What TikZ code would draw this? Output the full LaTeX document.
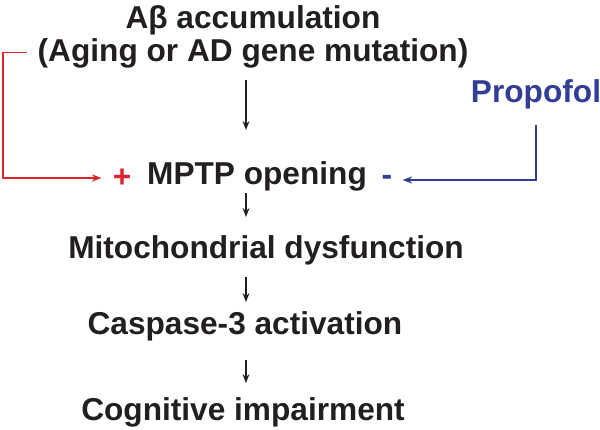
\documentclass[tikz,border=0pt]{standalone}
\usepackage{fontspec}
\setmainfont{Liberation Sans}
\usetikzlibrary{arrows.meta}
\definecolor{txtgray}{RGB}{35,31,32}
\definecolor{actred}{RGB}{222,35,45}
\definecolor{inhblue}{RGB}{50,62,150}
\tikzset{
	step label/.style={rectangle,anchor=base,inner sep=0pt,text height=16.9pt,text depth=5pt,
		text=txtgray,font=\fontsize{22.5}{26}\bfseries},
	sign label/.style={rectangle,inner sep=0pt,font=\fontsize{22.5}{26}\bfseries},
	flow/.style={line width=1pt,color=txtgray,-{Stealth[length=2.2mm,width=1.7mm]}},
	posarrow/.style={line width=1.2pt,color=actred,-{Stealth[length=2.4mm,width=1.8mm]}},
	negarrow/.style={line width=1.2pt,color=inhblue,-{Stealth[length=2.4mm,width=1.8mm]}}
}
\begin{document}
\begin{tikzpicture}[x=0.025cm,y=-0.025cm]
		\useasboundingbox (0,0) rectangle (600,429);
		
		%cascade
		\node[step label](abeta) at (253,28) {Aβ accumulation};
		\node[step label](cause) at (253,61) {(Aging or AD gene mutation)};
		\node[step label](mptp) at (257,184) {MPTP opening};
		\node[step label](mito) at (266,258) {Mitochondrial dysfunction};
		\node[step label](casp) at (245,334) {Caspase-3 activation};
		\node[step label](cog) at (243,420) {Cognitive impairment};
		%modulators
		\node[step label,text=inhblue](propofol) at (536,102) {Propofol};
		\node[sign label,text=actred](plus) at (122,178) {+};
		\node[sign label,text=inhblue](minus) at (387,180) {-};
		\coordinate (axis) at (246,0);
		\coordinate (redcorner) at (3,0);
		
		%arrows
		\draw[flow,shorten <=3mm,shorten >=7.5mm] (cause.south -| axis) -- (mptp.north -| axis);
		\draw[flow,shorten <=0.5mm,shorten >=4.25mm] (mptp.south -| axis) -- (mito.north -| axis);
		\draw[flow,shorten <=3mm,shorten >=2mm] (mito.south -| axis) -- (casp.north -| axis);
		\draw[flow,shorten <=4.75mm,shorten >=3.25mm] (casp.south -| axis) -- (cog.north -| axis);
		\draw[posarrow,shorten <=2.5mm,shorten >=2.75mm] (cause.west) -- (cause.west -| redcorner) |- (plus.west);
		\draw[negarrow,shorten <=4mm,shorten >=2.5mm] (propofol.south) |- (minus.east);
\end{tikzpicture}
\end{document}
